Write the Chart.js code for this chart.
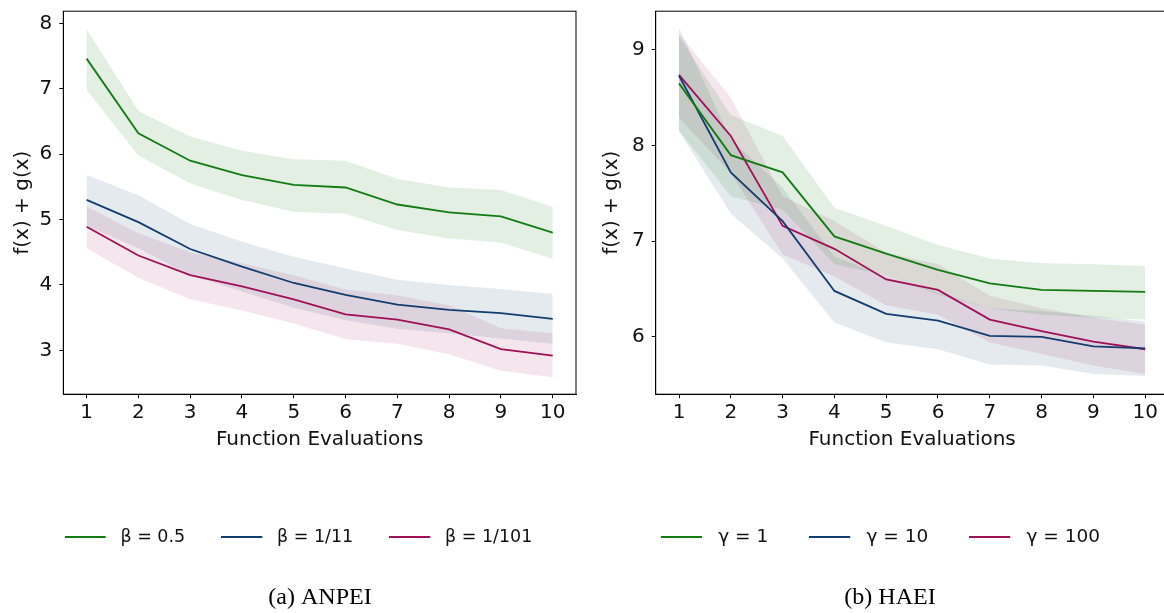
<!DOCTYPE html>
<html><head><meta charset="utf-8">
<script src="https://cdn.jsdelivr.net/npm/chart.js@4/dist/chart.umd.min.js"></script>
<style>
html,body{margin:0;padding:0;background:#fff;width:1164px;height:613px;overflow:hidden;}
#wrap{position:relative;width:1164px;height:613px;overflow:hidden;background:#fff;}
#c1{position:absolute;left:0;top:0;}
#c2{position:absolute;left:580px;top:0;}
</style></head><body>
<div id="wrap"><canvas id="c1" width="580" height="613"></canvas><canvas id="c2" width="600" height="613"></canvas></div>
<script>
// ---- data ----
const evals = [1, 2, 3, 4, 5, 6, 7, 8, 9, 10];
const xTicks = [1, 2, 3, 4, 5, 6, 7, 8, 9, 10];
const yTicksA = [3, 4, 5, 6, 7, 8];
const yTicksB = [6, 7, 8, 9];

const labelsA = ['β = 0.5', 'β = 1/11', 'β = 1/101'];
const labelsB = ['γ = 1', 'γ = 10', 'γ = 100'];
const captionA = '(a) ANPEI';
const captionB = '(b) HAEI';
const xTitle = 'Function Evaluations';
const yTitle = 'f(x) + g(x)';

// ANPEI
const anpeiB05Mean  = [7.46, 6.32, 5.90, 5.68, 5.53, 5.49, 5.23, 5.11, 5.05, 4.80];
const anpeiB05Upper = [7.91, 6.66, 6.27, 6.05, 5.92, 5.90, 5.62, 5.49, 5.45, 5.19];
const anpeiB05Lower = [6.98, 5.98, 5.55, 5.30, 5.12, 5.09, 4.84, 4.71, 4.65, 4.40];
const anpeiB11Mean  = [5.30, 4.96, 4.55, 4.28, 4.03, 3.85, 3.70, 3.62, 3.57, 3.48];
const anpeiB11Upper = [5.68, 5.37, 4.93, 4.66, 4.43, 4.25, 4.08, 4.00, 3.94, 3.86];
const anpeiB11Lower = [4.90, 4.56, 4.15, 3.90, 3.65, 3.46, 3.33, 3.26, 3.18, 3.10];
const anpeiB101Mean  = [4.89, 4.45, 4.15, 3.98, 3.78, 3.55, 3.47, 3.32, 3.02, 2.92];
const anpeiB101Upper = [5.20, 4.79, 4.50, 4.33, 4.15, 3.93, 3.84, 3.69, 3.34, 3.26];
const anpeiB101Lower = [4.56, 4.11, 3.78, 3.61, 3.41, 3.17, 3.10, 2.94, 2.69, 2.59];

// HAEI
const haeiG1Mean  = [8.65, 7.90, 7.72, 7.05, 6.87, 6.70, 6.56, 6.49, 6.48, 6.47];
const haeiG1Upper = [9.14, 8.32, 8.10, 7.35, 7.16, 6.96, 6.82, 6.77, 6.76, 6.74];
const haeiG1Lower = [8.16, 7.47, 7.33, 6.76, 6.64, 6.44, 6.30, 6.23, 6.20, 6.18];
const haeiG10Mean  = [8.73, 7.72, 7.21, 6.48, 6.24, 6.17, 6.01, 6.00, 5.90, 5.88];
const haeiG10Upper = [9.23, 8.06, 7.56, 6.84, 6.63, 6.46, 6.30, 6.27, 6.22, 6.16];
const haeiG10Lower = [8.15, 7.29, 6.82, 6.15, 5.94, 5.87, 5.71, 5.70, 5.61, 5.59];
const haeiG100Mean  = [8.74, 8.10, 7.16, 6.92, 6.60, 6.49, 6.18, 6.06, 5.95, 5.87];
const haeiG100Upper = [9.17, 8.50, 7.47, 7.21, 6.88, 6.76, 6.43, 6.30, 6.20, 6.13];
const haeiG100Lower = [8.29, 7.71, 6.86, 6.63, 6.33, 6.23, 5.94, 5.82, 5.70, 5.61];

// ---- styles ----
const COLORS = ['#137b13', '#123d6e', '#a01058'];
const BANDS = ['rgba(19,123,19,0.12)', 'rgba(18,61,110,0.11)', 'rgba(160,16,88,0.11)'];
const FONT = 'DejaVu Sans';
const AX_SIZE = 20;

function pts(vals) { return evals.map((e, i) => ({ x: e, y: vals[i] })); }

function legendImg(color, w) {
  const c = document.createElement('canvas');
  c.width = w; c.height = 4;
  const g = c.getContext('2d');
  g.strokeStyle = color; g.lineWidth = 2;
  g.beginPath(); g.moveTo(0, 2); g.lineTo(41, 2); g.stroke();
  return c;
}

const framePlugin = {
  id: 'frame',
  afterDatasetsDraw(chart) {
    const { ctx, chartArea: a } = chart;
    ctx.save();
    ctx.strokeStyle = '#000'; ctx.lineWidth = 1;
    ctx.strokeRect(a.left, a.top, a.right - a.left, a.bottom - a.top);
    ctx.restore();
  }
};

const placerPlugin = {
  id: 'placer',
  afterLayout(chart, args, o) {
    const L = chart.legend;
    if (L) {
      const w = L.right - L.left, h = L.bottom - L.top;
      L.left = o.legendX - w / 2; L.right = o.legendX + w / 2;
      const pad = L.options.labels.padding;
      L.top = o.legendY - pad - L.options.labels.font.size / 2; L.bottom = L.top + h;
    }
    const T = chart.titleBlock;
    if (T) {
      const w = T.right - T.left, h = T.bottom - T.top;
      T.left = o.titleX - w / 2; T.right = o.titleX + w / 2;
      const lh = T.options.font.size * 1.2;
      T.top = o.titleY - 10 - lh / 2; T.bottom = T.top + h;
    }
  }
};

function makeChart(canvasId, cfg) {
  const datasets = [];
  cfg.means.forEach((m, i) => datasets.push({
    label: cfg.labels[i], data: pts(m), borderColor: COLORS[i], backgroundColor: COLORS[i],
    borderWidth: 1.8, pointRadius: 0, fill: false, tension: 0
  }));
  cfg.means.forEach((m, i) => {
    datasets.push({ label: '', data: pts(cfg.lowers[i]), borderColor: 'rgba(0,0,0,0)', borderWidth: 0, pointRadius: 0, fill: false });
    datasets.push({ label: '', data: pts(cfg.uppers[i]), borderColor: 'rgba(0,0,0,0)', borderWidth: 0, pointRadius: 0, fill: '-1', backgroundColor: BANDS[i] });
  });
  const imgW = 41 + cfg.legGap;
  // compensate the legend box height so that the plot area bottom stays fixed
  const padBottom = 44 - ((cfg.legPad - 38) + (cfg.legSize - 18));

  return new Chart(document.getElementById(canvasId), {
    type: 'line',
    data: { datasets },
    plugins: [framePlugin, placerPlugin],
    options: {
      responsive: false,
      animation: false,
      devicePixelRatio: 1,
      layout: { padding: { top: 11.2, left: 0, right: cfg.padR, bottom: padBottom } },
      scales: {
        x: {
          type: 'linear', min: 0.55, max: 10.45,
          afterBuildTicks: s => { s.ticks = xTicks.map(v => ({ value: v })); },
          afterFit: s => { s.height = 60; s.paddingLeft = 0; s.paddingRight = 0; },
          grid: { drawOnChartArea: false, drawTicks: true, tickLength: 4, color: '#000', lineWidth: 1 },
          border: { display: true, color: '#000', width: 1 },
          ticks: { color: '#111', font: { family: FONT, size: AX_SIZE }, padding: 3, maxRotation: 0, autoSkip: false },
          title: { display: true, text: xTitle, color: '#111', font: { family: FONT, size: AX_SIZE }, padding: { top: 2, bottom: 2 } }
        },
        y: {
          type: 'linear', min: cfg.yMin, max: cfg.yMax,
          afterBuildTicks: s => { s.ticks = cfg.yTicks.map(v => ({ value: v })); },
          afterFit: s => { s.width = cfg.yWidth; s.paddingTop = 0; s.paddingBottom = 0; },
          grid: { drawOnChartArea: false, drawTicks: true, tickLength: 4, color: '#000', lineWidth: 1 },
          border: { display: true, color: '#000', width: 1 },
          ticks: { color: '#111', font: { family: FONT, size: AX_SIZE }, padding: 7 },
          title: { display: true, text: yTitle, color: '#111', font: { family: FONT, size: AX_SIZE }, padding: { top: cfg.yTitlePad, bottom: 4 } }
        }
      },
      plugins: {
        tooltip: { enabled: false },
        legend: {
          display: true, position: 'bottom',
          labels: {
            usePointStyle: true, pointStyleWidth: imgW, padding: cfg.legPad, color: '#111',
            font: { family: FONT, size: cfg.legSize },
            generateLabels(chart) {
              const items = Chart.defaults.plugins.legend.labels.generateLabels(chart);
              items.forEach(it => { it.pointStyle = legendImg(chart.data.datasets[it.datasetIndex].borderColor, imgW); it.fontColor = '#111'; });
              return items;
            },
            filter: it => it.text !== ''
          }
        },
        title: {
          display: true, position: 'bottom', text: cfg.caption, color: '#000',
          font: { family: 'Liberation Serif', size: 24, weight: 'normal' }, padding: 10
        },
        placer: { legendX: cfg.legendX, legendY: 537, titleX: cfg.titleX, titleY: 598 }
      }
    }
  });
}

makeChart('c1', {
  means: [anpeiB05Mean, anpeiB11Mean, anpeiB101Mean],
  uppers: [anpeiB05Upper, anpeiB11Upper, anpeiB101Upper],
  lowers: [anpeiB05Lower, anpeiB11Lower, anpeiB101Lower],
  labels: labelsA, caption: captionA,
  yMin: 2.33, yMax: 8.185, yTicks: yTicksA,
  yWidth: 63.3, yTitlePad: 11, padR: 4,
  legendX: 298.5, titleX: 320, legSize: 17.5, legPad: 36, legGap: 6
});

makeChart('c2', {
  means: [haeiG1Mean, haeiG10Mean, haeiG100Mean],
  uppers: [haeiG1Upper, haeiG10Upper, haeiG100Upper],
  lowers: [haeiG1Lower, haeiG10Lower, haeiG100Lower],
  labels: labelsB, caption: captionB,
  yMin: 5.40, yMax: 9.405, yTicks: yTicksB,
  yWidth: 75.7, yTitlePad: 20, padR: 11.5,
  legendX: 300.5, titleX: 310, legSize: 18.5, legPad: 41, legGap: 7
});
</script>
</body></html>
